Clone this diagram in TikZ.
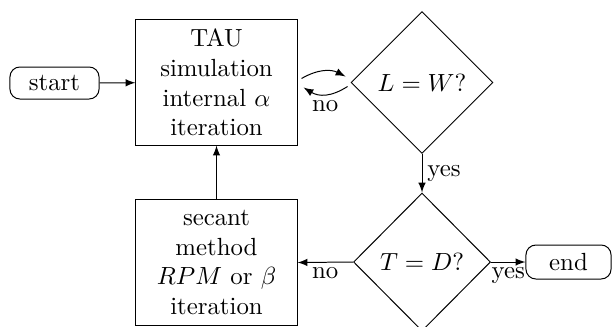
\documentclass[tikz,border=0pt]{standalone}
\usetikzlibrary{shapes.geometric,calc}

\tikzset{
  every picture/.style={line width=0.4pt},
  terminal/.style={draw, rounded corners=4pt, inner sep=0pt, align=center},
  process/.style={draw, inner sep=0pt, align=center,
    minimum width=64.9pt, minimum height=50.4pt},
  decision/.style={draw, diamond, aspect=1, inner sep=0pt},
  flow/.style={-latex},
  lbl/.style={font=\normalsize, inner sep=2pt}
}

\begin{document}
\begin{tikzpicture}[x=0.403pt, y=-0.403pt]
  \clip (0,0) rectangle (612,326);

  % nodes
  \node[terminal, minimum width=35.9pt, minimum height=12.9pt] (start) at (54.5,83) {start};
  \node[process] (tau) at (216.5,82.5) {TAU\\simulation\\internal $\alpha$\\iteration};
  \node[decision, minimum width=57.2pt, minimum height=57.2pt] (lw) at (422,82.5) {$L=W?$};
  \node[decision, minimum width=55.2pt, minimum height=55.6pt] (td) at (422,262) {$T=D?$};
  \node[process] (sec) at (216.5,262.5) {secant\\method\\$RPM$ or $\beta$\\iteration};
  \node[terminal, minimum width=34.3pt, minimum height=13.7pt] (end) at (568.5,262) {end};

  % connectors
  \draw[flow] (start) -- (tau);
  \draw[flow] ($(tau.east)+(4,-4)$) .. controls (318,69) and (331,69) .. ($(lw.west)+(-5,-6)$);
  \draw[flow] ($(lw.west)+(-3,4)$) .. controls (331,97) and (319,97) .. ($(tau.east)+(6,5)$)
    node[lbl, pos=0.5, below] {no};
  \draw[flow] (lw.south) -- node[lbl, right] {yes} (td.north);
  \draw[flow] (td.west) -- node[lbl, below] {no} (sec.east);
  \draw[flow] (td.east) -- node[lbl, below] {yes} (end.west);
  \draw[flow] (sec.north) -- (tau.south);
\end{tikzpicture}
\end{document}
